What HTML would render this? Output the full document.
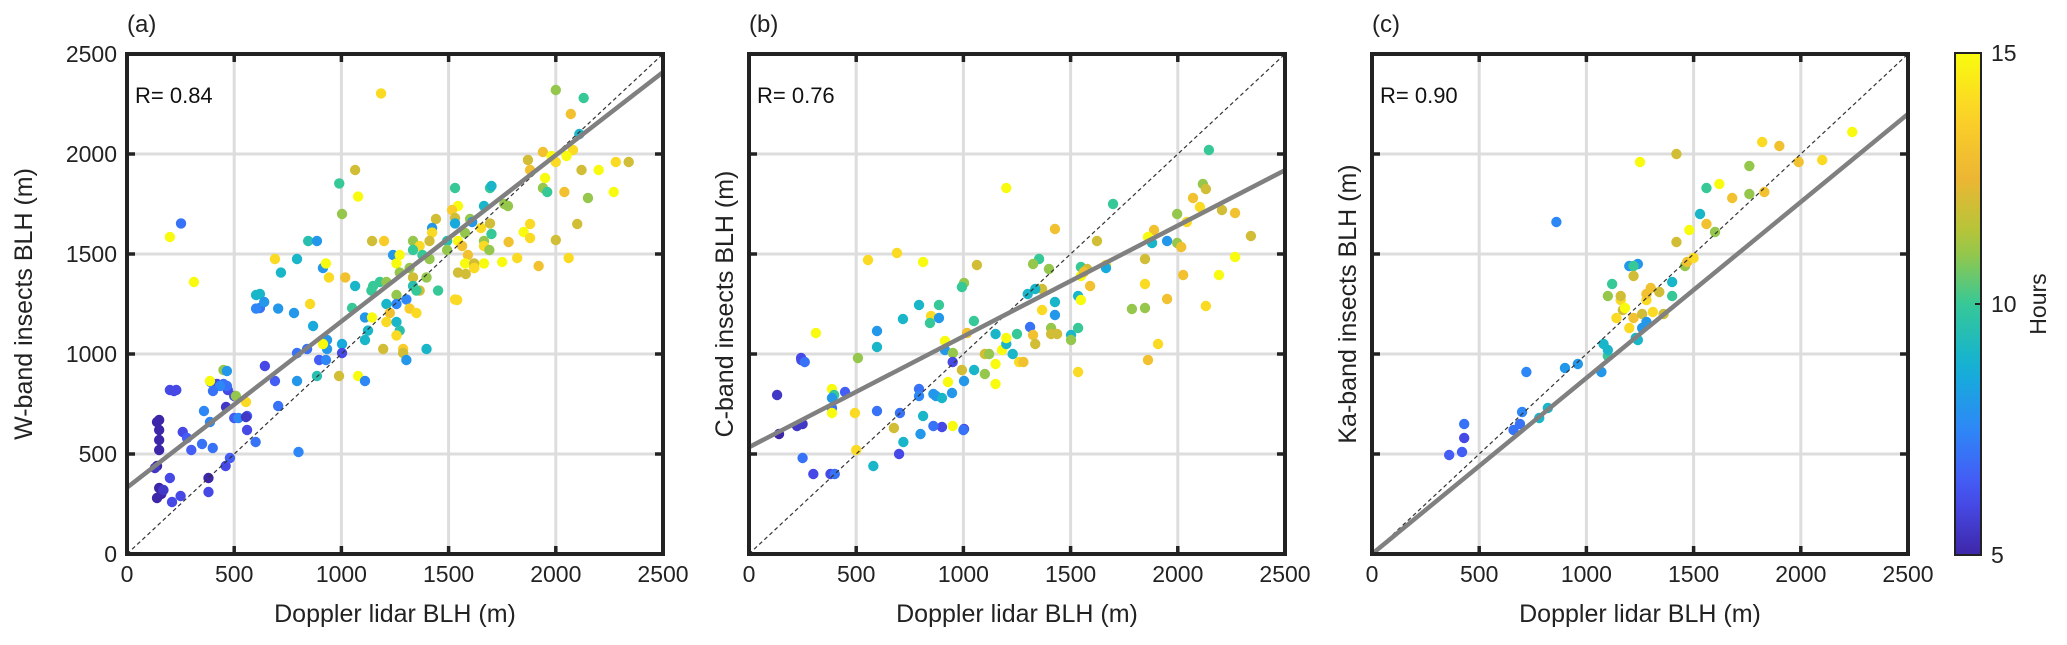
<!DOCTYPE html>
<html><head><meta charset="utf-8"><style>
body{margin:0;background:#fff;}
svg{display:block;font-family:"Liberation Sans","DejaVu Sans",sans-serif;}
</style></head><body>
<svg id="fig" width="2067" height="645" viewBox="0 0 2067 645" xmlns="http://www.w3.org/2000/svg"></svg>
<script>
const ticks=[0,500,1000,1500,2000,2500];
const tickLabels=["0","500","1000","1500","2000","2500"];
const aX=[140,150,160,170,140,150,150,150,150,130,200,230,260,280,250,210,200,300,350,380,380,400,390,420,450,460,480,470,500,500,450,520,560,560,600,620,620,640,800,1185,252,200,312,1064,990,1078,1003,845,886,1143,1199,690,793,718,914,928,942,1018,1064,602,602,705,779,854,868,1050,1110,1143,1124,1110,1003,1003,933,933,914,840,793,896,928,989,1078,1110,886,793,690,643,466,466,434,401,387,219,508,462,555,359,387,555,705,140,1530,1693,1544,1516,1530,1665,1600,1651,1693,1777,1441,1423,1423,1530,1577,1544,1563,1665,1665,1493,1493,1590,1577,1665,1619,1619,1544,1530,1451,1334,1365,1411,1334,1378,1411,1241,1272,1257,1272,1318,1334,1397,1334,1365,1350,1179,1210,1148,1140,1257,1303,1257,1210,1318,1350,1226,1210,1257,1272,1257,1288,1288,1303,1195,1397,2000,2130,2070,2110,2080,2120,1940,1980,2050,2000,1870,1880,1950,1940,1960,2040,2060,1920,1880,1850,2000,2100,2150,2200,2270,2280,2340,1880,1700,1760,1610,1700,1690,1780,1750,1820,1620,1540,1580];
const aY=[280,330,300,320,440,520,570,620,670,430,820,820,610,580,290,260,380,520,550,380,310,530,860,850,850,440,480,820,680,790,920,680,620,690,560,1230,1300,1260,510,2303,1653,1585,1360,1920,1853,1787,1700,1565,1565,1565,1565,1475,1475,1407,1430,1453,1383,1383,1340,1295,1227,1227,1205,1250,1140,1230,1183,1183,1117,1070,1050,1005,1070,1025,1050,1025,1005,970,970,890,890,865,890,865,865,940,915,840,840,815,865,815,790,735,760,715,660,685,740,660,1830,1830,1740,1720,1680,1740,1675,1630,1653,1740,1675,1630,1607,1653,1605,1565,1540,1565,1540,1565,1520,1495,1453,1453,1453,1430,1407,1273,1317,1565,1540,1565,1520,1495,1475,1495,1495,1453,1407,1430,1383,1383,1340,1317,1317,1360,1360,1340,1317,1295,1273,1250,1250,1227,1205,1205,1160,1160,1117,1093,1025,1005,970,1025,1025,2320,2280,2200,2100,2020,1920,2010,1990,1990,1960,1970,1920,1880,1830,1810,1810,1480,1440,1650,1610,1570,1650,1780,1920,1810,1960,1960,1580,1840,1750,1660,1600,1520,1560,1460,1480,1430,1270,1400];
const aH=[5,5,5,5.5,5,5,5,5,5,5.5,6,6,6,6.5,6,6,6,6.5,7,5,6,7,7,6,7,6,6.5,6,6.5,6,11,7.5,6,6.5,7,7,9,8,7.5,14,7,15,15,12,10,15,11,9.5,8,12,13.5,14,9,9,8,15,14,13,9,9,7.5,8,8,14,8.5,10,8,15,9,9,8.5,6,8,8,15,7,7,6.5,7.5,12,15,7.5,9.5,8,6.5,6,8,7,7.5,7,15,6,11,5.5,14,7.5,7.5,5.5,7,5,10,10,15,13.5,12,9,11,14,12,11,12,8,14,8.5,11,15,13,11,14,9.5,11,13,15,15,12,13,12,14,10,11,14,12,10,10,11,8,15,15,11,11,12,11,9.5,12,10,10,11,10,10,11,7.5,7.5,9,13.5,14,13,14,9,9.5,14,13.5,12,8,12,9,11,10,13,9,14,12,13,15,15,14,12,13,15,11,10,13,14,13,14,15,12,12,11,15,15,14,12,14,9,11,8,10,11,13,15,14,14,14,12];
const bX=[690,555,812,1063,1003,993,793,886,718,849,886,844,1049,1017,597,597,312,508,243,244,914,914,951,993,928,1003,947,872,793,793,812,900,1003,676,704,597,494,448,387,397,387,387,387,131,224,250,300,380,400,140,250,260,500,580,700,720,800,860,900,950,1000,950,860,2145,2117,2131,2071,2103,2206,2267,1997,2042,2341,1698,1427,1623,1889,1861,1880,1950,1997,2016,2267,2192,2025,1847,1847,1950,2131,1786,1847,1908,1861,1535,1548,1577,1665,1665,1548,1562,1591,1535,1548,1353,1325,1399,1367,1335,1427,1367,1427,1311,1325,1335,1409,1409,1437,1502,1502,1535,1100,1150,1180,1200,1250,1260,1280,1230,1200,1300,1100,1150,1050,1120,1150,1200];
const bY=[1505,1470,1460,1445,1355,1335,1245,1245,1175,1190,1180,1155,1165,1105,1115,1035,1105,980,980,970,1065,1020,1005,920,860,865,805,790,825,790,690,635,625,630,705,715,705,810,825,795,780,730,705,795,640,480,400,400,400,600,650,960,520,440,500,560,600,640,780,640,620,960,800,2020,1850,1825,1780,1735,1720,1705,1700,1660,1590,1750,1625,1565,1620,1585,1555,1565,1555,1535,1485,1395,1395,1475,1350,1275,1240,1225,1230,1050,970,910,1435,1425,1445,1430,1390,1410,1340,1290,1270,1475,1450,1425,1325,1325,1260,1220,1195,1135,1095,1050,1130,1100,1100,1095,1070,1130,1000,1100,1020,1050,1100,960,960,1000,1830,1300,900,950,920,1000,850,1080];
const bH=[14,14,15,12,11,10,9,10,9,14,8,10,10,13,8,9,15,11,6,6,15,8,11,12,15,8,8,8,7,7.5,9,6,6,12,7,7,14,6.5,15,10,8,7,15,5.5,5.5,7,6,6,7,5,5.5,7,14,9,6,9,8,7,9,15,7,6,8,10,11,12,13,14,12,13,11,14,12,10,13,12,13,15,9,8,11,13,15,15,13,12,14,13,14,11,11,14,13,14,10,12,14,8.5,15,13,13,9,15,10,11,11,12,9,9,14,8,7,13,12,11,12,12,9,11,10,12,9,15,9,10,14,13,9,15,9,11,15,9,11];
const cX=[360,420,430,430,660,690,700,720,780,820,860,900,960,1070,1080,1100,1100,1140,1160,1170,1200,1200,1220,1230,1240,1260,1260,1280,1280,1300,1250,1240,1310,1340,1360,1400,1400,1420,1420,1460,1480,1470,1500,1530,1560,1560,1600,1620,1680,1760,1760,1830,1820,1900,1990,2100,2240,1100,1120,1220,1220,1180,1280,1160];
const cY=[495,510,580,650,620,650,710,910,680,730,1660,930,950,910,1050,990,1020,1180,1270,1220,1130,1440,1180,1080,1070,1130,1200,1160,1270,1330,1960,1450,1210,1310,1200,1360,1290,1560,2000,1440,1620,1460,1480,1700,1830,1650,1610,1850,1780,1800,1940,1810,2060,2040,1960,1970,2110,1290,1350,1440,1390,1230,1300,1290];
const cH=[6.5,6.5,6,7,7,7,7.5,7.5,9,9,7.5,8,8,8,9,10,9,14,14,12,14,8,13,9,9,8,12,8,14,13,15,8,14,12,12,9,10,12,12,11,15,13,14,9,10,13,11,15,13,11,11,13,14,13,13,14,15,11,10,10,12,15,13,12];
const fitIntercept=[332,534,0];
const fitSlope=[0.831,0.554,0.88];
const rLabels=["R= 0.84","R= 0.76","R= 0.90"];
const panelLetters=["(a)","(b)","(c)"];
const yTitles=["W-band insects BLH (m)","C-band insects BLH (m)","Ka-band insects BLH (m)"];
const cbTicks=[5,10,15];

const NS="http://www.w3.org/2000/svg";
const svg=document.getElementById('fig');
function mk(tag,attrs,parent){const e=document.createElementNS(NS,tag);for(const k in attrs)e.setAttribute(k,attrs[k]);(parent||svg).appendChild(e);return e;}
const stops=[[0,[62,38,168]],[0.125,[72,82,244]],[0.25,[46,135,247]],[0.375,[18,177,214]],[0.5,[55,200,151]],[0.625,[171,199,57]],[0.75,[236,182,52]],[0.875,[252,210,40]],[1,[249,251,14]]];
function parula(t){t=Math.max(0,Math.min(1,t));for(let i=1;i<stops.length;i++){if(t<=stops[i][0]){const a=stops[i-1],b=stops[i];const f=(t-a[0])/(b[0]-a[0]);const c=a[1].map((v,j)=>Math.round(v+(b[1][j]-v)*f));return `rgb(${c[0]},${c[1]},${c[2]})`;}}return 'rgb(249,251,14)';}
const T=54,B=554,W=536;
const lefts=[127,749,1372];
const datasets=[[aX,aY,aH],[bX,bY,bH],[cX,cY,cH]];
lefts.forEach((L,p)=>{
  const sx=v=>L+v/2500*W, sy=v=>B-v/2500*(B-T);
  const g=mk('g',{});
  
  
  ticks.forEach((t,i)=>{
    if(i>0&&i<5){
      const gx=mk('line',{x1:sx(t),x2:sx(t),y1:T,y2:B,stroke:'#dddddd','stroke-width':3},g);
      
      const gy=mk('line',{x1:L,x2:L+W,y1:sy(t),y2:sy(t),stroke:'#dddddd','stroke-width':3},g);
      
    }
  });
  const [X,Y,H]=datasets[p];
  const clip=mk('clipPath',{id:'clip'+p},g);mk('rect',{x:L,y:T,width:W,height:B-T},clip);
  const pts=mk('g',{'clip-path':`url(#clip${p})`},g);
  
  X.forEach((x,i)=>{
    const c=mk('circle',{cx:sx(x),cy:sy(Y[i]),r:5.2,fill:parula((H[i]-5)/10)},pts);
    
    
  });
  const d=mk('line',{x1:sx(0),y1:sy(0),x2:sx(2500),y2:sy(2500),stroke:'#333','stroke-width':1.2,'stroke-dasharray':'4,3'},pts);
  
  const f=mk('line',{x1:sx(0),y1:sy(fitIntercept[p]),x2:sx(2500),y2:sy(fitIntercept[p]+fitSlope[p]*2500),stroke:'#808080','stroke-width':4.5},pts);
  
  ticks.forEach((t,i)=>{
    if(i>0&&i<5){
      [[sx(t),B,sx(t),B-8],[sx(t),T,sx(t),T+8],[L,sy(t),L+8,sy(t)],[L+W,sy(t),L+W-8,sy(t)]].forEach(q=>{
        const tk=mk('line',{x1:q[0],y1:q[1],x2:q[2],y2:q[3],stroke:'#222','stroke-width':3.5},g);
        
      });
    }
    const xl=mk('text',{x:sx(t),y:582,'font-size':23,'text-anchor':'middle',fill:'#222'},g);xl.textContent=tickLabels[i];
    
    if(p===0){const yl=mk('text',{x:L-10,y:sy(t)+8,'font-size':23,'text-anchor':'end',fill:'#222'},g);yl.textContent=tickLabels[i];
      }
  });
  const fr=mk('rect',{x:L,y:T,width:W,height:B-T,fill:'none',stroke:'#222','stroke-width':4},g);
  
  const r=mk('text',{x:L+8,y:103,'font-size':22,fill:'#111'},g);r.textContent=rLabels[p];
  
  const pl=mk('text',{x:L,y:32,'font-size':24,fill:'#222'},g);pl.textContent=panelLetters[p];
  
  const xt=mk('text',{x:L+W/2,y:622,'font-size':25,'text-anchor':'middle',fill:'#222'},g);xt.textContent='Doppler lidar BLH (m)';
  
  const tx=[32,733,1356][p];
  const yt=mk('text',{x:tx,y:(T+B)/2,'font-size':25,'text-anchor':'middle',fill:'#222',transform:`rotate(-90 ${tx} ${(T+B)/2})`},g);yt.textContent=yTitles[p];
  
});
// colorbar
const defs=mk('defs',{});
const lg=mk('linearGradient',{id:'cbg',x1:0,y1:1,x2:0,y2:0},defs);
for(let i=0;i<=20;i++){mk('stop',{offset:i/20,'stop-color':parula(i/20)},lg);}
const CT=53,CB=555,CL=1955,CW=26;
const cb=mk('rect',{x:CL,y:CT,width:CW,height:CB-CT,fill:'url(#cbg)',stroke:'#222','stroke-width':2});

cbTicks.forEach(v=>{
  const y=CB-(v-5)/10*(CB-CT);
  const tk=mk('line',{x1:CL+CW-6,x2:CL+CW,y1:y,y2:y,stroke:'#222','stroke-width':2});
  
  const t=mk('text',{x:CL+CW+10,y:y+8,'font-size':23,fill:'#222'});t.textContent=String(v);
  
});
const ht=mk('text',{x:2046,y:304,'font-size':23,'text-anchor':'middle',fill:'#222',transform:'rotate(-90 2046 304)'});ht.textContent='Hours';

</script>
</body></html>
